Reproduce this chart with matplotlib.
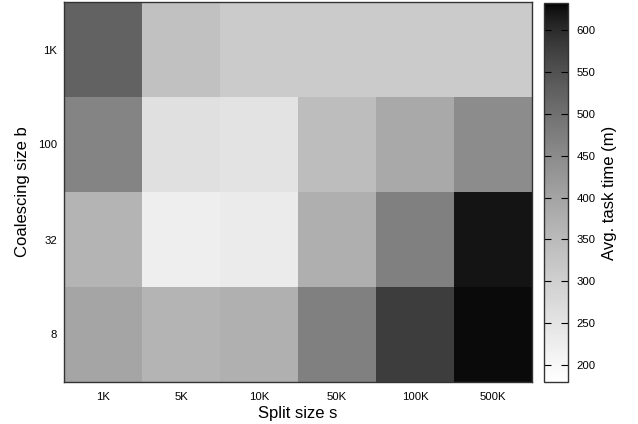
import matplotlib
matplotlib.use("Agg")
import matplotlib.pyplot as plt
import numpy as np
from matplotlib.colors import ListedColormap

# split sizes (columns) and coalescing sizes (rows, top to bottom)
split_sizes = ["1K", "5K", "10K", "50K", "100K", "500K"]
coalescing_sizes = ["1K", "100", "32", "8"]

# avg. task time in minutes, one list per coalescing size
time_b1k = [523, 332, 309, 309, 309, 309]
time_b100 = [462, 260, 252, 344, 388, 448]
time_b32 = [362, 224, 232, 375, 471, 621]
time_b8 = [397, 362, 371, 471, 578, 627]

cb_min = 180
cb_max = 632

plt.rcParams['font.family'] = ['Liberation Sans', 'DejaVu Sans']

# gnuplot style negative gray palette with gamma 1.5
t = np.linspace(0, 1, 256)
g = (1 - t) ** (1 / 1.5)
gray_cmap = ListedColormap(np.column_stack([g, g, g]))

data = np.array([time_b1k, time_b100, time_b32, time_b8])

fig = plt.figure(figsize=(6.38, 4.24), dpi=100)
ax = fig.add_axes([64 / 638, 1 - 382 / 424, 468 / 638, 380 / 424])
cax = fig.add_axes([544 / 638, 1 - 382 / 424, 24 / 638, 379 / 424])

im = ax.imshow(data, cmap=gray_cmap, vmin=cb_min, vmax=cb_max,
               aspect='auto', interpolation='nearest')

ax.set_xticks(np.arange(len(split_sizes)))
ax.set_xticklabels(split_sizes)
ax.set_yticks(np.arange(len(coalescing_sizes)))
ax.set_yticklabels(coalescing_sizes)
ax.tick_params(axis='both', length=0, labelsize=8.2)
ax.tick_params(axis='x', pad=7)
ax.tick_params(axis='y', pad=5)
ax.set_xlabel("Split size s", fontsize=12, labelpad=3)
ax.set_ylabel("Coalescing size b", fontsize=12, labelpad=6)
for sp in ax.spines.values():
    sp.set_linewidth(1.0)
    sp.set_color('#333333')

cbar = fig.colorbar(im, cax=cax)
cbar.set_ticks(np.arange(200, 601, 50))
cax.tick_params(direction='in', left=True, right=True, length=5, width=0.8,
                labelsize=8.2, pad=6)
cbar.outline.set_linewidth(1.0)
cbar.outline.set_edgecolor('#333333')
cbar.set_label("Avg. task time (m)", fontsize=12, labelpad=5)

fig.savefig("out.png", dpi=100)
